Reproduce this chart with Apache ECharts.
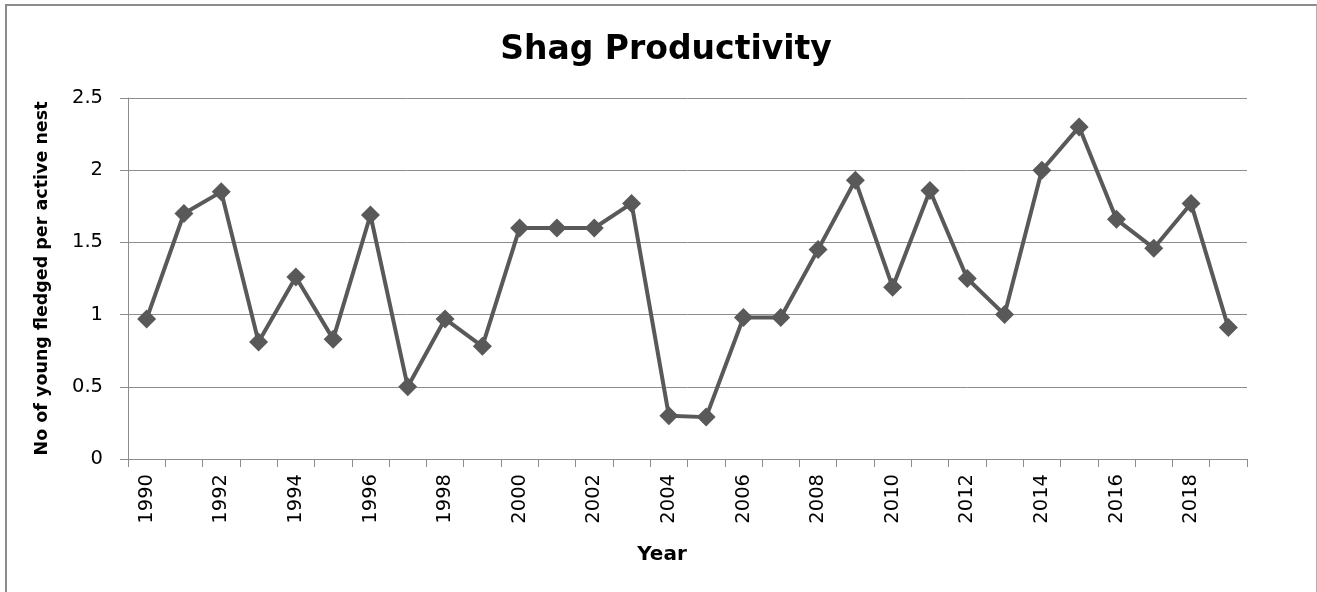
<!DOCTYPE html>
<html>
<head>
<meta charset="utf-8">
<script src="https://cdn.jsdelivr.net/npm/echarts@6/dist/echarts.min.js"></script>
<style>
  html, body { margin: 0; padding: 0; background: #ffffff; }
  #frame { position: absolute; left: 5px; top: 4px; width: 1309px; height: 600px;
           border-top: 2px solid #8c8c8c; border-left: 2px solid #8c8c8c; border-right: 1px solid #b0b0b0; }
  #chart { position: absolute; left: 0; top: 0; width: 1317px; height: 592px; }
</style>
</head>
<body>
<div id="frame"></div>
<div id="chart"></div>
<script>
const chartTitle = 'Shag Productivity';
const xAxisName = 'Year';
const yAxisName = 'No of young fledged per active nest';
const years = ['1990','1991','1992','1993','1994','1995','1996','1997','1998','1999',
               '2000','2001','2002','2003','2004','2005','2006','2007','2008','2009',
               '2010','2011','2012','2013','2014','2015','2016','2017','2018','2019'];
const productivity = [0.97, 1.70, 1.85, 0.81, 1.26, 0.83, 1.69, 0.50, 0.97, 0.78,
                      1.60, 1.60, 1.60, 1.77, 0.30, 0.29, 0.98, 0.98, 1.45, 1.93,
                      1.19, 1.86, 1.25, 1.00, 2.00, 2.30, 1.66, 1.46, 1.77, 0.91];
const yMin = 0, yMax = 2.5, yStep = 0.5;

const axisGray = '#8c8c8c';
const chart = echarts.init(document.getElementById('chart'), null, { renderer: 'canvas' });
chart.setOption({
  animation: false,
  backgroundColor: 'transparent',
  title: {
    text: chartTitle,
    left: 661, top: 29, textAlign: 'center',
    textStyle: { fontFamily: 'DejaVu Sans', fontWeight: 'bold', fontSize: 33, color: '#000' }
  },
  grid: { left: 128, right: 70, top: 98, bottom: 133, containLabel: false },
  xAxis: {
    type: 'category',
    data: years,
    boundaryGap: true,
    name: xAxisName,
    nameLocation: 'middle',
    nameGap: 86,
    nameTextStyle: { fontFamily: 'DejaVu Sans', fontWeight: 'bold', fontSize: 20, color: '#000', padding: [0, 51, 0, 0] },
    axisLine: { show: true, lineStyle: { color: axisGray, width: 1 } },
    axisTick: { show: true, interval: 0, length: 8, lineStyle: { color: axisGray } },
    axisLabel: { interval: 1, rotate: 90, margin: 15, fontFamily: 'DejaVu Sans', fontSize: 19.5, color: '#000' },
    splitLine: { show: false }
  },
  yAxis: {
    type: 'value',
    min: yMin, max: yMax, interval: yStep,
    name: yAxisName,
    nameLocation: 'middle',
    nameGap: 77,
    nameTextStyle: { fontFamily: 'DejaVu Sans', fontWeight: 'bold', fontSize: 17.5, color: '#000' },
    axisLine: { show: true, lineStyle: { color: axisGray, width: 1 } },
    axisTick: { show: true, length: 8, lineStyle: { color: axisGray } },
    axisLabel: { margin: 25, fontFamily: 'DejaVu Sans', fontSize: 19.5, color: '#000' },
    splitLine: { show: true, lineStyle: { color: axisGray, width: 1 } }
  },
  series: [{
    type: 'line',
    data: productivity,
    symbol: 'diamond',
    symbolSize: 19,
    lineStyle: { color: '#595959', width: 4 },
    itemStyle: { color: '#595959' }
  }]
});
</script>
</body>
</html>
